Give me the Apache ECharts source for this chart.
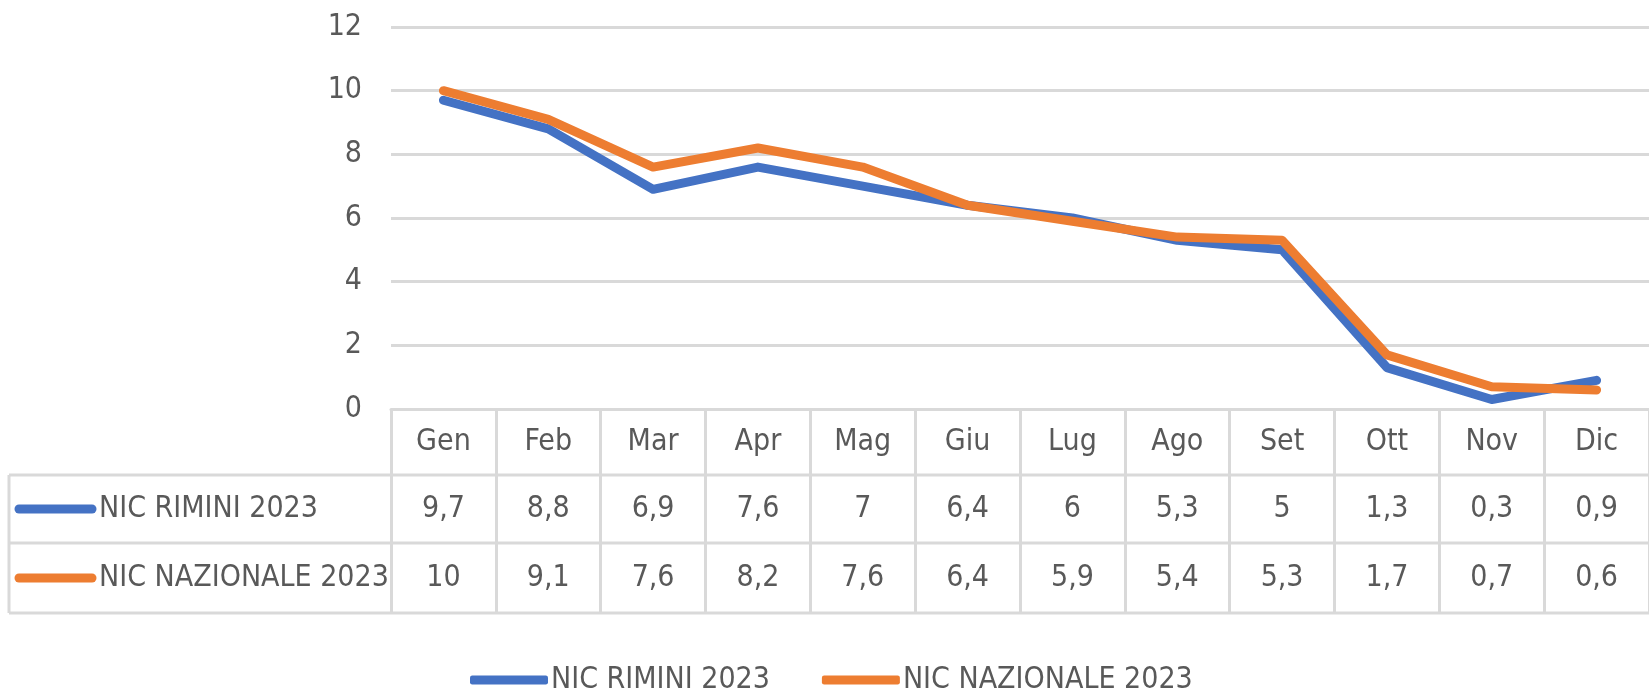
<!DOCTYPE html>
<html>
<head>
<meta charset="utf-8">
<script src="https://cdn.jsdelivr.net/npm/echarts@6/dist/echarts.min.js"></script>
<style>
html, body { margin: 0; padding: 0; background: #fff; }
#chart { width: 1649px; height: 693px; }
</style>
</head>
<body>
<div id="chart"></div>
<script>
var mesi = ['Gen', 'Feb', 'Mar', 'Apr', 'Mag', 'Giu', 'Lug', 'Ago', 'Set', 'Ott', 'Nov', 'Dic'];
var rimini = [9.7, 8.8, 6.9, 7.6, 7, 6.4, 6, 5.3, 5, 1.3, 0.3, 0.9];
var nazionale = [10, 9.1, 7.6, 8.2, 7.6, 6.4, 5.9, 5.4, 5.3, 1.7, 0.7, 0.6];
var nomi = ['NIC RIMINI 2023', 'NIC NAZIONALE 2023'];
var colori = ['#4472C4', '#ED7D31'];

var FONT = "'Liberation Sans Narrow', 'DejaVu Sans Condensed', sans-serif";
var SIZE = 30;
var grigio = '#d9d9d9';
var testo = '#595959';

function virgola(v) {
	return String(v).replace('.', ',');
}

var chartDom = document.getElementById('chart');
var myChart = echarts.init(chartDom);
myChart.setOption({
	animation: false,
	grid: {
		left: 391,
		top: 27,
		width: 1267,
		height: 382
	},
	legend: {
		data: nomi,
		left: 465,
		top: 660,
		itemWidth: 78,
		itemHeight: 9,
		itemGap: 52,
		icon: 'roundRect',
		textStyle: {
			fontFamily: FONT,
			fontSize: SIZE,
			color: testo,
			padding: [0, 0, 0, -2]
		}
	},
	xAxis: {
		type: 'category',
		data: mesi,
		boundaryGap: true,
		axisLine: { lineStyle: { color: grigio, width: 3 } },
		axisTick: {
			show: true,
			length: 204,
			lineStyle: { color: grigio, width: 3 }
		},
		axisLabel: {
			margin: 33,
			verticalAlign: 'middle',
			fontFamily: FONT,
			fontSize: SIZE,
			color: testo
		}
	},
	yAxis: {
		type: 'value',
		min: 0,
		max: 12,
		interval: 2,
		axisLine: { show: false },
		axisTick: { show: false },
		splitLine: { lineStyle: { color: grigio, width: 3 } },
		axisLabel: {
			margin: 29,
			fontFamily: FONT,
			fontSize: SIZE,
			color: testo
		}
	},
	series: [{
		name: nomi[0],
		type: 'line',
		data: rimini,
		symbol: 'none',
		color: colori[0],
		lineStyle: { width: 9, cap: 'round', join: 'round' }
	}, {
		name: nomi[1],
		type: 'line',
		data: nazionale,
		symbol: 'none',
		color: colori[1],
		lineStyle: { width: 9, cap: 'round', join: 'round' }
	}]
});

// tabella dati sotto il grafico
var righe = [rimini, nazionale];
var yRighe = [509, 578];
var grafica = [];
[475, 543, 613].forEach(function(y) {
	grafica.push({
		type: 'line',
		shape: { x1: 9, y1: y, x2: 1658, y2: y },
		style: { stroke: grigio, lineWidth: 3 }
	});
});
grafica.push({
	type: 'line',
	shape: { x1: 9, y1: 475, x2: 9, y2: 613 },
	style: { stroke: grigio, lineWidth: 3 }
});
for (var r = 0; r < righe.length; r++) {
	grafica.push({
		type: 'line',
		shape: { x1: 19, y1: yRighe[r], x2: 92, y2: yRighe[r] },
		style: { stroke: colori[r], lineWidth: 9, lineCap: 'round' }
	});
	grafica.push({
		type: 'text',
		x: 99,
		y: yRighe[r],
		style: {
			text: nomi[r],
			fill: testo,
			font: SIZE + 'px ' + FONT,
			textAlign: 'left',
			textVerticalAlign: 'middle'
		}
	});
	for (var i = 0; i < mesi.length; i++) {
		var x = myChart.convertToPixel({ xAxisIndex: 0 }, mesi[i]);
		grafica.push({
			type: 'text',
			x: x,
			y: yRighe[r],
			style: {
				text: virgola(righe[r][i]),
				fill: testo,
				font: SIZE + 'px ' + FONT,
				textAlign: 'center',
				textVerticalAlign: 'middle'
			}
		});
	}
}
myChart.setOption({ graphic: grafica });
</script>
</body>
</html>
